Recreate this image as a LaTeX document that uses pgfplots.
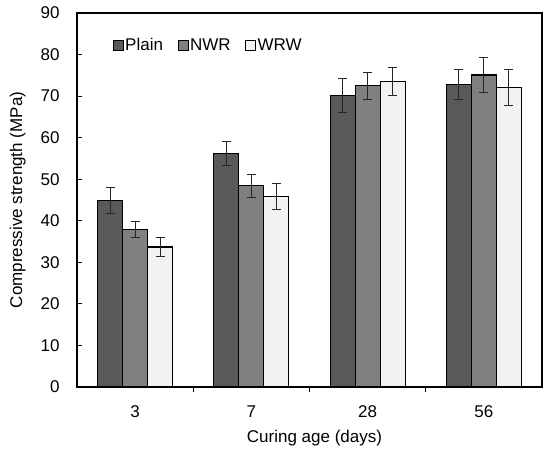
\documentclass[border=0pt]{standalone}
\usepackage{pgfplots}
\pgfplotsset{compat=1.18}
\usepackage{fontspec}
\setmainfont{Liberation Sans}
\definecolor{cPlain}{HTML}{595959}
\definecolor{cNWR}{HTML}{808080}
\definecolor{cWRW}{HTML}{F2F2F2}
\begin{document}
\begin{tikzpicture}[font=\fontsize{17bp}{20bp}\selectfont]
\begin{axis}[
  scale only axis,
  width=465bp, height=374bp,
  xmin=-0.5, xmax=3.5,
  ymin=0, ymax=90,
  ytick={0,10,...,90},
  xtick={0,1,2,3},
  xticklabels={3,7,28,56},
  minor xtick={0.5,1.5,2.5},
  major x tick style={draw=none},
  tick align=inside,
  tick pos=left,
  major tick length=5bp,
  minor tick length=5bp,
  tick style={line width=1.2bp, black},
  axis line style={line width=1.6bp, black},
  /pgf/number format/assume math mode=true,
  yticklabel style={xshift=-14bp},
  xticklabel style={yshift=-10bp},
  ybar=0pt,
  bar width=0.215,
  every axis plot/.append style={draw=black, line width=1.2bp},
  error bars/error bar style={line width=0.9bp, black!85},
  error bars/error mark options={line width=0.9bp, black!85, mark size=4.5bp, rotate=90},
  legend image code/.code={\draw[#1, line width=1bp] (0bp,-5bp) rectangle (10bp,5bp);},
  legend style={draw=none, fill=none, at={(rel axis cs:0.07,0.9144)}, anchor=west,
    legend columns=-1, nodes={inner sep=1.5bp},
    /tikz/every even column/.append style={column sep=13bp}},
]
\addplot[fill=cPlain, error bars/.cd, y dir=both, y explicit] coordinates {
 (0,44.8) +- (0,3.1)
 (1,56.2) +- (0,2.9)
 (2,70.1) +- (0,4.1)
 (3,72.8) +- (0,3.5)
};
\addplot[fill=cNWR, error bars/.cd, y dir=both, y explicit] coordinates {
 (0,37.9) +- (0,2.0)
 (1,48.4) +- (0,2.7)
 (2,72.5) +- (0,3.2)
 (3,75.1) +- (0,4.1)
};
\addplot[fill=cWRW, error bars/.cd, y dir=both, y explicit] coordinates {
 (0,33.7) +- (0,2.3)
 (1,45.9) +- (0,3.1)
 (2,73.5) +- (0,3.3)
 (3,72.1) +- (0,4.3)
};
\legend{Plain,NWR,WRW}
\coordinate (sw) at (rel axis cs:0,0);
\coordinate (ne) at (rel axis cs:1,1);
\coordinate (lm) at (rel axis cs:0,0.5);
\coordinate (bm) at (rel axis cs:0.5,0);
\end{axis}
\node[rotate=90, anchor=base] at ([xshift=-55bp]lm) {Compressive strength (MPa)};
\node[anchor=base] at ([xshift=5bp,yshift=-56bp]bm) {Curing age (days)};
\pgfresetboundingbox
\path ([shift={(-77bp,-63bp)}]sw) rectangle ([shift={(8bp,13bp)}]ne);
\end{tikzpicture}
\end{document}
